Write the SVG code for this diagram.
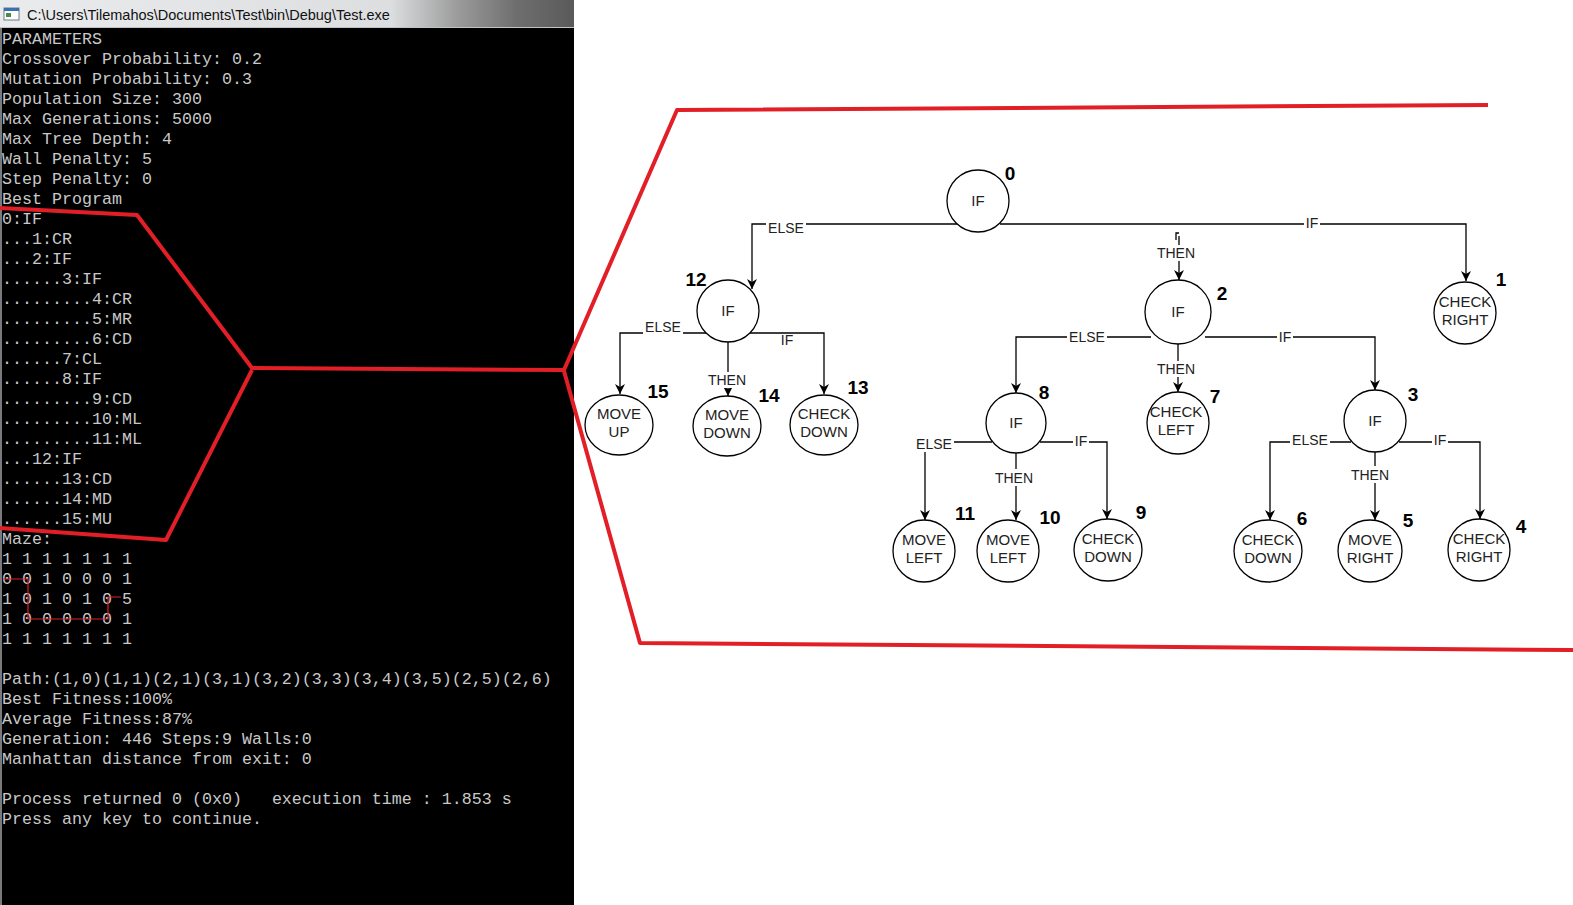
<svg xmlns="http://www.w3.org/2000/svg" width="1573" height="905" viewBox="0 0 1573 905">
<defs>
<linearGradient id="tb" x1="0" y1="0" x2="1" y2="0">
<stop offset="0" stop-color="#e9ebed"/>
<stop offset="0.68" stop-color="#dcdee0"/>
<stop offset="0.8" stop-color="#9a9a9a"/>
<stop offset="0.9" stop-color="#6e6e6e"/>
<stop offset="1" stop-color="#5a5a5a"/>
</linearGradient>
<marker id="ah" viewBox="0 0 10 10" refX="10" refY="5" markerWidth="10" markerHeight="10" markerUnits="userSpaceOnUse" orient="auto">
<path d="M0,0 L10,5 L0,10 L3,5 Z" fill="#000"/>
</marker>
<style>
.con{font-family:"Liberation Mono","DejaVu Sans Mono",monospace;font-size:16.67px;fill:#c8c8c8;white-space:pre}
.nd{fill:#fff;stroke:#000;stroke-width:1.3}
.nt{font-family:"Liberation Sans",Arial,sans-serif;font-size:15px;fill:#222;text-anchor:middle}
.num{font-family:"Liberation Sans",Arial,sans-serif;font-size:19px;font-weight:bold;fill:#000;text-anchor:middle}
.e{fill:none;stroke:#000;stroke-width:1.3}
.ea{fill:none;stroke:#000;stroke-width:1.3;marker-end:url(#ah)}
.lb{font-family:"Liberation Sans",Arial,sans-serif;font-size:14px;fill:#222;text-anchor:middle}
.red{fill:none;stroke:#e21f26;stroke-width:4;stroke-linejoin:round}
</style>
</defs>
<rect x="0" y="0" width="1573" height="905" fill="#fff"/>
<g id="console">
<rect x="0" y="0" width="574" height="28" fill="url(#tb)"/>
<rect x="4" y="8" width="15" height="12" fill="#fff" stroke="#6a7a8a" stroke-width="1"/>
<rect x="4" y="8" width="15" height="3" fill="#3a6fb0"/>
<rect x="6" y="13" width="5" height="4" fill="#4a8a4a"/>
<text x="27" y="20" font-family="Liberation Sans,Arial,sans-serif" font-size="14.5" fill="#111">C:\Users\Tilemahos\Documents\Test\bin\Debug\Test.exe</text>
<rect x="0" y="27" width="574" height="1" fill="#bfc3c7"/>
<rect x="0" y="28" width="574" height="877" fill="#000"/>
<rect x="0" y="28" width="2" height="877" fill="#7a7a7a"/>
<text class="con" x="2" y="44">PARAMETERS</text>
<text class="con" x="2" y="64">Crossover Probability: 0.2</text>
<text class="con" x="2" y="84">Mutation Probability: 0.3</text>
<text class="con" x="2" y="104">Population Size: 300</text>
<text class="con" x="2" y="124">Max Generations: 5000</text>
<text class="con" x="2" y="144">Max Tree Depth: 4</text>
<text class="con" x="2" y="164">Wall Penalty: 5</text>
<text class="con" x="2" y="184">Step Penalty: 0</text>
<text class="con" x="2" y="204">Best Program</text>
<text class="con" x="2" y="224">0:IF</text>
<text class="con" x="2" y="244">...1:CR</text>
<text class="con" x="2" y="264">...2:IF</text>
<text class="con" x="2" y="284">......3:IF</text>
<text class="con" x="2" y="304">.........4:CR</text>
<text class="con" x="2" y="324">.........5:MR</text>
<text class="con" x="2" y="344">.........6:CD</text>
<text class="con" x="2" y="364">......7:CL</text>
<text class="con" x="2" y="384">......8:IF</text>
<text class="con" x="2" y="404">.........9:CD</text>
<text class="con" x="2" y="424">.........10:ML</text>
<text class="con" x="2" y="444">.........11:ML</text>
<text class="con" x="2" y="464">...12:IF</text>
<text class="con" x="2" y="484">......13:CD</text>
<text class="con" x="2" y="504">......14:MD</text>
<text class="con" x="2" y="524">......15:MU</text>
<text class="con" x="2" y="544">Maze:</text>
<text class="con" x="2" y="564">1 1 1 1 1 1 1</text>
<text class="con" x="2" y="584">0 0 1 0 0 0 1</text>
<text class="con" x="2" y="604">1 0 1 0 1 0 5</text>
<text class="con" x="2" y="624">1 0 0 0 0 0 1</text>
<text class="con" x="2" y="644">1 1 1 1 1 1 1</text>
<text class="con" x="2" y="684">Path:(1,0)(1,1)(2,1)(3,1)(3,2)(3,3)(3,4)(3,5)(2,5)(2,6)</text>
<text class="con" x="2" y="704">Best Fitness:100%</text>
<text class="con" x="2" y="724">Average Fitness:87%</text>
<text class="con" x="2" y="744">Generation: 446 Steps:9 Walls:0</text>
<text class="con" x="2" y="764">Manhattan distance from exit: 0</text>
<text class="con" x="2" y="804">Process returned 0 (0x0)   execution time : 1.853 s</text>
<text class="con" x="2" y="824">Press any key to continue.</text>
<path d="M3,579 L28,579 L28,619 L108,619 L108,597 L121,597" fill="none" stroke="#e21f26" stroke-width="1.2"/>
</g>
<g id="connectors">
<path class="ea" d="M958,224 L752,224 L752,289"/>
<path class="ea" d="M1000,224 L1466,224 L1466,281"/>
<path class="e" d="M1176,240 L1176,233 L1179,233"/>
<path class="ea" d="M1179,236 L1179,280"/>
<path class="ea" d="M706,333 L620,333 L620,394"/>
<path class="ea" d="M750,333 L824,333 L824,394"/>
<path class="ea" d="M728,342 L728,396"/>
<path class="ea" d="M1151,337 L1016,337 L1016,393"/>
<path class="ea" d="M1205,337 L1375,337 L1375,390"/>
<path class="ea" d="M1178,344 L1178,392"/>
<path class="ea" d="M992,442 L925,442 L925,520"/>
<path class="ea" d="M1040,442 L1107,442 L1107,519"/>
<path class="ea" d="M1016,453 L1016,520"/>
<path class="ea" d="M1351,442 L1270,442 L1270,520"/>
<path class="ea" d="M1399,442 L1480,442 L1480,519"/>
<path class="ea" d="M1375,452 L1375,520"/>
<g>
<rect x="766" y="220" width="40" height="16" fill="#fff"/><text class="lb" x="786" y="233">ELSE</text>
<rect x="1304" y="216" width="16" height="15" fill="#fff"/><text class="lb" x="1312" y="228">IF</text>
<rect x="1155" y="245" width="42" height="16" fill="#fff"/><text class="lb" x="1176" y="258">THEN</text>
<rect x="643" y="320" width="40" height="15" fill="#fff"/><text class="lb" x="663" y="332">ELSE</text>
<rect x="779" y="334" width="16" height="15" fill="#fff"/><text class="lb" x="787" y="345">IF</text>
<rect x="706" y="372" width="42" height="16" fill="#fff"/><text class="lb" x="727" y="385">THEN</text>
<rect x="1067" y="329" width="40" height="16" fill="#fff"/><text class="lb" x="1087" y="342">ELSE</text>
<rect x="1277" y="329" width="16" height="16" fill="#fff"/><text class="lb" x="1285" y="342">IF</text>
<rect x="1155" y="361" width="42" height="16" fill="#fff"/><text class="lb" x="1176" y="374">THEN</text>
<rect x="914" y="436" width="40" height="16" fill="#fff"/><text class="lb" x="934" y="449">ELSE</text>
<rect x="1073" y="434" width="16" height="16" fill="#fff"/><text class="lb" x="1081" y="446">IF</text>
<rect x="993" y="469" width="42" height="17" fill="#fff"/><text class="lb" x="1014" y="483">THEN</text>
<rect x="1290" y="432" width="40" height="16" fill="#fff"/><text class="lb" x="1310" y="445">ELSE</text>
<rect x="1432" y="432" width="16" height="16" fill="#fff"/><text class="lb" x="1440" y="445">IF</text>
<rect x="1349" y="466" width="42" height="17" fill="#fff"/><text class="lb" x="1370" y="480">THEN</text>
</g>
</g>
<g id="n0"><circle class="nd" cx="978" cy="201" r="31"/><text class="nt" x="978" y="206">IF</text><text class="num" x="1010" y="180">0</text></g>
<g id="n1"><circle class="nd" cx="1465" cy="313" r="31"/><text class="nt" x="1465" y="307">CHECK</text><text class="nt" x="1465" y="325">RIGHT</text><text class="num" x="1501" y="286">1</text></g>
<g id="n2"><ellipse class="nd" cx="1178" cy="312" rx="33" ry="32"/><text class="nt" x="1178" y="317">IF</text><text class="num" x="1222" y="300">2</text></g>
<g id="n3"><circle class="nd" cx="1375" cy="421" r="31"/><text class="nt" x="1375" y="426">IF</text><text class="num" x="1413" y="401">3</text></g>
<g id="n4"><ellipse class="nd" cx="1479" cy="550" rx="31" ry="31"/><text class="nt" x="1479" y="544">CHECK</text><text class="nt" x="1479" y="562">RIGHT</text><text class="num" x="1521" y="533">4</text></g>
<g id="n5"><ellipse class="nd" cx="1370" cy="551" rx="32" ry="31"/><text class="nt" x="1370" y="545">MOVE</text><text class="nt" x="1370" y="563">RIGHT</text><text class="num" x="1408" y="527">5</text></g>
<g id="n6"><ellipse class="nd" cx="1268" cy="551" rx="34" ry="31"/><text class="nt" x="1268" y="545">CHECK</text><text class="nt" x="1268" y="563">DOWN</text><text class="num" x="1302" y="525">6</text></g>
<g id="n7"><circle class="nd" cx="1178" cy="423" r="31"/><text class="nt" x="1176" y="417">CHECK</text><text class="nt" x="1176" y="435">LEFT</text><text class="num" x="1215" y="403">7</text></g>
<g id="n8"><circle class="nd" cx="1016" cy="423" r="30"/><text class="nt" x="1016" y="428">IF</text><text class="num" x="1044" y="399">8</text></g>
<g id="n9"><ellipse class="nd" cx="1108" cy="550" rx="34" ry="31"/><text class="nt" x="1108" y="544">CHECK</text><text class="nt" x="1108" y="562">DOWN</text><text class="num" x="1141" y="519">9</text></g>
<g id="n10"><circle class="nd" cx="1008" cy="551" r="31"/><text class="nt" x="1008" y="545">MOVE</text><text class="nt" x="1008" y="563">LEFT</text><text class="num" x="1050" y="524">10</text></g>
<g id="n11"><circle class="nd" cx="924" cy="551" r="31"/><text class="nt" x="924" y="545">MOVE</text><text class="nt" x="924" y="563">LEFT</text><text class="num" x="965" y="520">11</text></g>
<g id="n12"><circle class="nd" cx="728" cy="311" r="31"/><text class="nt" x="728" y="316">IF</text><text class="num" x="696" y="286">12</text></g>
<g id="n13"><ellipse class="nd" cx="824" cy="425" rx="34" ry="30"/><text class="nt" x="824" y="419">CHECK</text><text class="nt" x="824" y="437">DOWN</text><text class="num" x="858" y="394">13</text></g>
<g id="n14"><ellipse class="nd" cx="727" cy="426" rx="34" ry="30"/><text class="nt" x="727" y="420">MOVE</text><text class="nt" x="727" y="438">DOWN</text><text class="num" x="769" y="402">14</text></g>
<g id="n15"><ellipse class="nd" cx="619" cy="425" rx="34" ry="30"/><text class="nt" x="619" y="419">MOVE</text><text class="nt" x="619" y="437">UP</text><text class="num" x="658" y="398">15</text></g>
<g id="red-outline">
<path class="red" d="M0,208 L137,215 L252,368 L564,370 L677,110 L1488,105"/>
<path class="red" d="M0,528 L166,540 L252,370"/>
<path class="red" d="M564,371 L640,643 L1573,650"/>
</g>
</svg>
